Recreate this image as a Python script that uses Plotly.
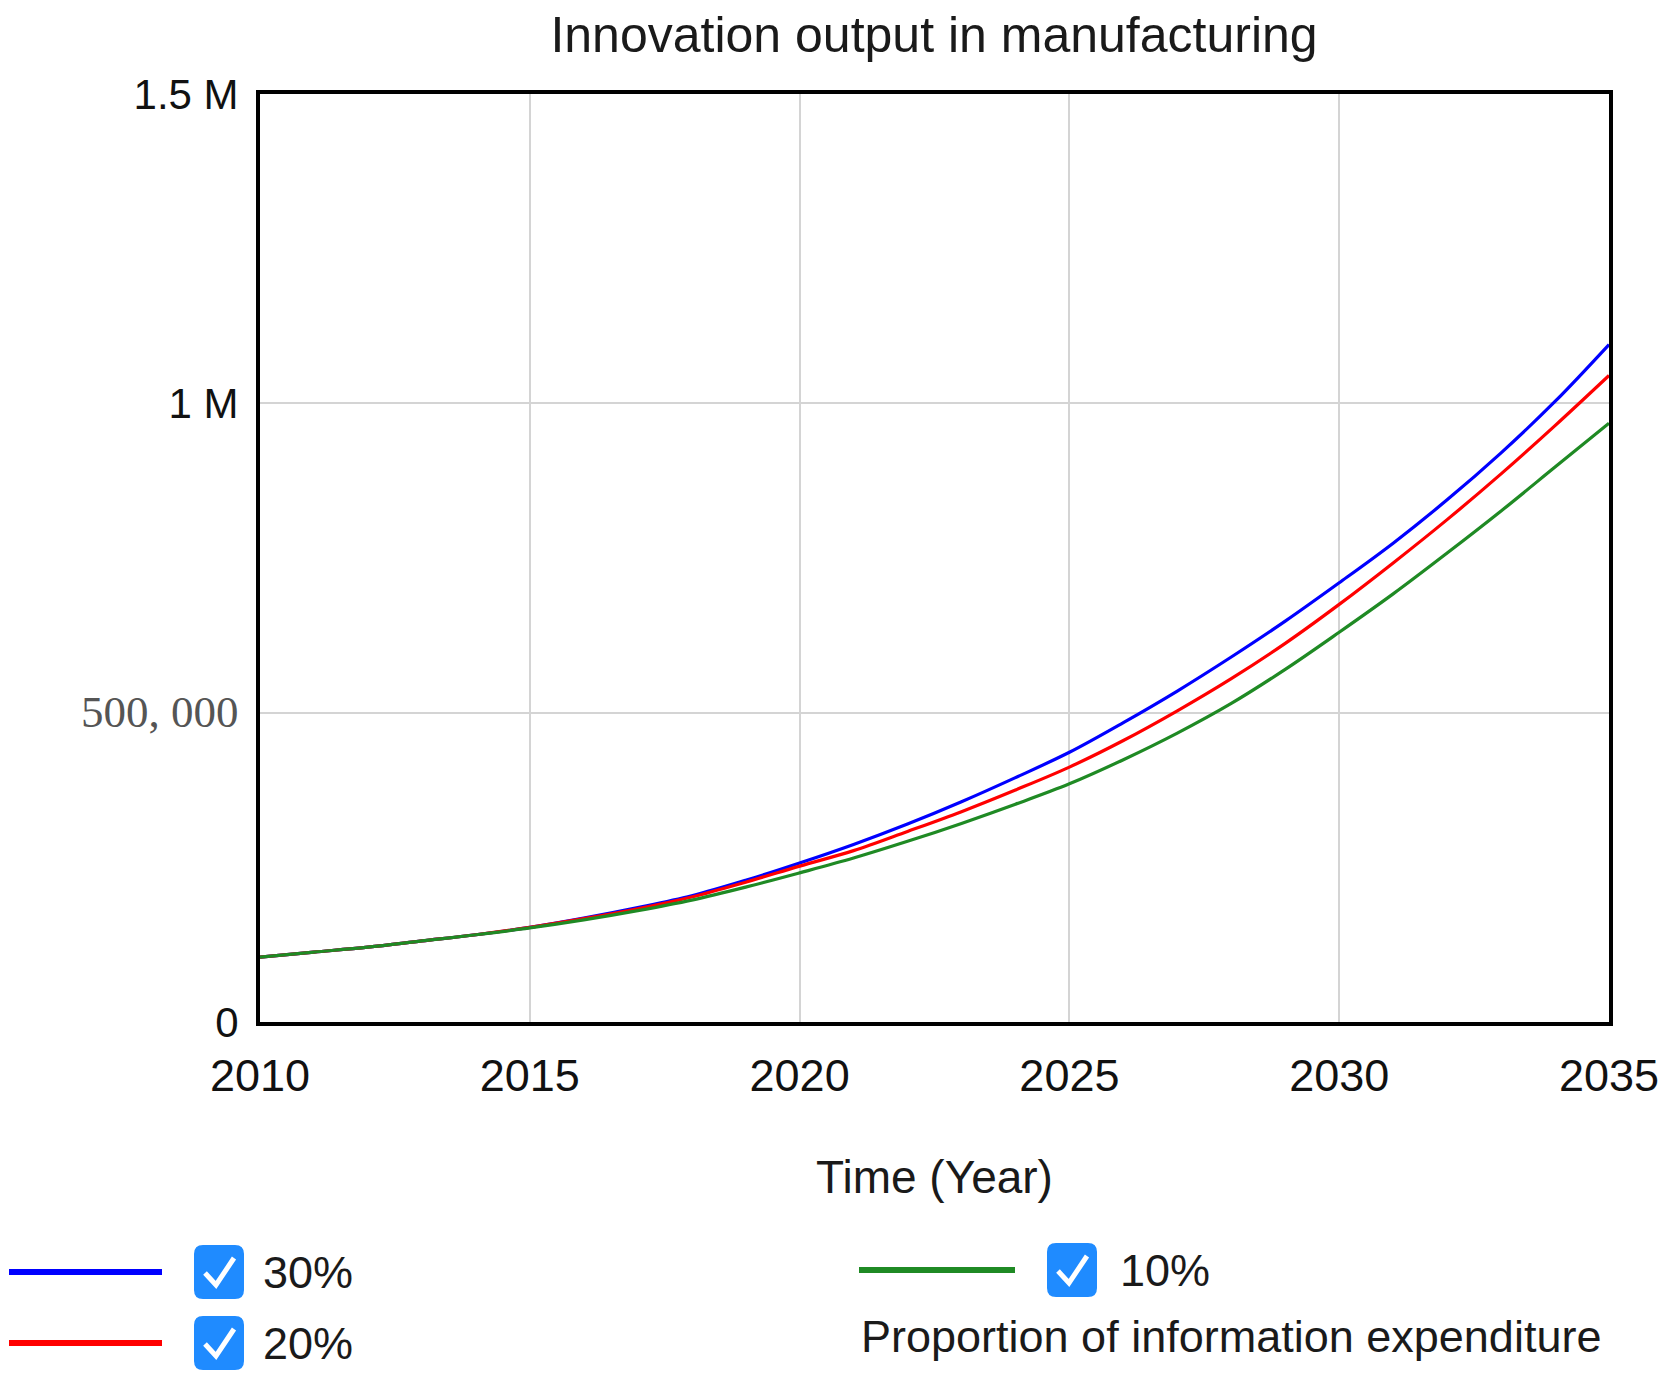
import plotly.graph_objects as go

# data (innovation output, in units)
years = list(range(2010, 2036))

out_30 = [105000, 113000, 121000, 131000, 141000, 153000, 168000, 185000, 204000, 229000,
          257000, 287000, 320000, 356000, 395000, 436000, 484000, 535000, 590000, 648000,
          710000, 774000, 844000, 920000, 1003000, 1095000]
out_20 = [105000, 113000, 121000, 131000, 141000, 153000, 167000, 183000, 202000, 226000,
          252000, 277000, 308000, 340000, 375000, 412000, 455000, 503000, 555000, 612000,
          675000, 742000, 812000, 886000, 964000, 1045000]
out_10 = [105000, 113000, 121000, 131000, 141000, 152000, 165000, 180000, 197000, 218000,
          241000, 265000, 292000, 321000, 352000, 385000, 424000, 467000, 515000, 570000,
          630000, 692000, 758000, 826000, 897000, 968000]

series_names = ["30%", "20%", "10%"]
series_colors = ["#0000ff", "#ff0000", "#1f8a24"]
series_values = [out_30, out_20, out_10]

y_tickvals = [0, 500000, 1000000, 1500000]
y_ticktext = ["0",
              "<span style='font-family:Liberation Serif;font-size:45px;fill:#555'>500, 000</span>",
              "1 M", "1.5 M"]
x_tickvals = [2010, 2015, 2020, 2025, 2030, 2035]

W, H = 1667, 1378
L, R, T, B = 252, 1601, 86, 1014
FONT = "Liberation Sans, Arial, sans-serif"


def px(x):
    return (x - L) / (R - L)


def py(y):
    return (B - y) / (B - T)


fig = go.Figure()
for name, color, vals in zip(series_names, series_colors, series_values):
    fig.add_trace(go.Scatter(x=years, y=vals, mode="lines", name=name,
                             line=dict(color=color, width=3.2, shape="spline"),
                             showlegend=False))

# hand-built legend with check boxes (like the original app's legend)
legend_pos = [(1, 154, 1264, 211, 253), (1, 154, 1335, 211, 253), (851, 1007, 1262, 1064, 1110)]
shapes = []
annotations = []
for (name, color), (x0, x1, yy, cx, tx) in zip(zip(series_names, series_colors), legend_pos):
    shapes.append(dict(type="line", xref="paper", yref="paper",
                       x0=px(x0), x1=px(x1), y0=py(yy), y1=py(yy),
                       line=dict(color=color, width=6)))
    # rounded check box
    bx0, bx1, by0, by1, r = cx - 25, cx + 25, yy - 27, yy + 27, 9
    path = (f"M {px(bx0 + r)},{py(by0)} L {px(bx1 - r)},{py(by0)} "
            f"Q {px(bx1)},{py(by0)} {px(bx1)},{py(by0 + r)} L {px(bx1)},{py(by1 - r)} "
            f"Q {px(bx1)},{py(by1)} {px(bx1 - r)},{py(by1)} L {px(bx0 + r)},{py(by1)} "
            f"Q {px(bx0)},{py(by1)} {px(bx0)},{py(by1 - r)} L {px(bx0)},{py(by0 + r)} "
            f"Q {px(bx0)},{py(by0)} {px(bx0 + r)},{py(by0)} Z")
    shapes.append(dict(type="path", xref="paper", yref="paper", path=path,
                       fillcolor="#1f8bff", line=dict(width=0)))
    tick = (f"M {px(cx - 14)},{py(yy + 1)} L {px(cx - 3)},{py(yy + 13)} "
            f"L {px(cx + 15)},{py(yy - 14)}")
    shapes.append(dict(type="path", xref="paper", yref="paper", path=tick,
                       line=dict(color="white", width=5)))
    annotations.append(dict(text=name, xref="paper", yref="paper", x=px(tx), y=py(yy),
                            xanchor="left", yanchor="middle", showarrow=False,
                            font=dict(family=FONT, size=45, color="#1a1a1a")))

annotations.append(dict(text="Proportion of information expenditure", xref="paper", yref="paper",
                        x=px(851), y=py(1328), xanchor="left", yanchor="middle", showarrow=False,
                        font=dict(family=FONT, size=45, color="#1a1a1a")))

fig.update_layout(
    width=W, height=H,
    margin=dict(l=L, r=W - R, t=T, b=H - B),
    paper_bgcolor="white", plot_bgcolor="white",
    title=dict(text="Innovation output in manufacturing", x=0.5555, xanchor="center",
               y=1 - 26 / H, yanchor="middle",
               font=dict(family=FONT, size=50, color="#1a1a1a")),
    xaxis=dict(range=[2010, 2035], tickvals=x_tickvals, showgrid=True,
               gridcolor="#d4d4d4", gridwidth=2, showline=True, linecolor="black",
               linewidth=4, mirror=True, zeroline=False, ticks="",
               ticklabelstandoff=11,
               tickfont=dict(family=FONT, size=45, color="#111"),
               title=dict(text="Time (Year)", standoff=62,
                          font=dict(family=FONT, size=46, color="#1a1a1a"))),
    yaxis=dict(range=[0, 1500000], tickvals=y_tickvals, ticktext=y_ticktext,
               showgrid=True, gridcolor="#d4d4d4", gridwidth=2, showline=True,
               linecolor="black", linewidth=4, mirror=True, zeroline=False, ticks="",
               ticklabelstandoff=9,
               tickfont=dict(family=FONT, size=42, color="#111")),
    shapes=shapes,
    annotations=annotations,
)

fig.write_html("out.html")
